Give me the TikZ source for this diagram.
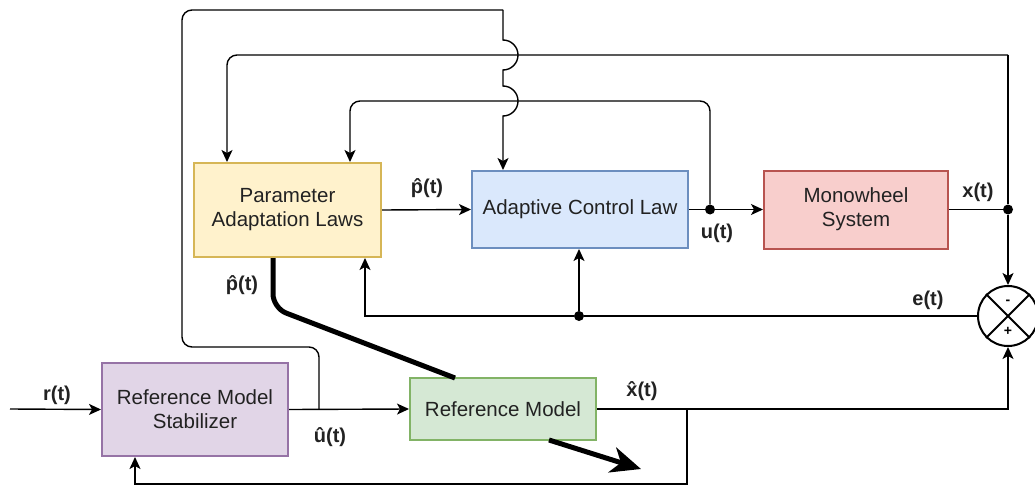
\documentclass[tikz,border=0pt]{standalone}
\usepackage{fontspec}
\setmainfont{Liberation Sans}
\usetikzlibrary{arrows.meta}
\definecolor{yfill}{HTML}{FFF2CC}\definecolor{ydraw}{HTML}{D6B656}
\definecolor{bfill}{HTML}{DAE8FC}\definecolor{bdraw}{HTML}{6C8EBF}
\definecolor{rfill}{HTML}{F8CECC}\definecolor{rdraw}{HTML}{B85450}
\definecolor{pfill}{HTML}{E1D5E7}\definecolor{pdraw}{HTML}{9673A6}
\definecolor{gfill}{HTML}{D5E8D4}\definecolor{gdraw}{HTML}{82B366}
\definecolor{txt}{HTML}{222222}
\begin{document}
\begin{tikzpicture}[x=1pt,y=-1pt,
  box/.style={draw, line width=2pt, align=center, inner sep=0pt, text=txt,
    font=\fontsize{20.5}{24}\selectfont},
  lbl/.style={font=\bfseries\fontsize{20}{22}\selectfont, text=txt},
  wire/.style={line width=1.4pt},
  conn/.style={wire, -{Stealth[length=12pt,width=11pt,inset=3pt]}},
  thick wire/.style={line width=5pt},
  dot/.style={circle, fill=black, inner sep=0pt, minimum size=10pt}]
\useasboundingbox (0,0) rectangle (1035,487);

% blocks
\node[box, fill=yfill, draw=ydraw, minimum width=187pt, minimum height=94pt] (pal) at (287.5,210) {Parameter\\Adaptation Laws};
\node[box, fill=bfill, draw=bdraw, minimum width=216pt, minimum height=77pt] (acl) at (580,209.5) {Adaptive Control Law};
\node[box, fill=rfill, draw=rdraw, minimum width=184pt, minimum height=78pt] (mws) at (856,209.5) {Monowheel\\System};
\node[box, fill=pfill, draw=pdraw, minimum width=186pt, minimum height=93pt] (rms) at (195,409.5) {Reference Model\\Stabilizer};
\node[box, fill=gfill, draw=gdraw, minimum width=186pt, minimum height=62pt] (rm) at (503,409) {Reference Model};
\node[draw, circle, line width=2pt, minimum size=60pt, inner sep=0pt] (sum) at (1008,316) {};
\draw[line width=2pt] (sum.north west) -- (sum.south east) (sum.north east) -- (sum.south west);
\node[font=\bfseries\fontsize{14}{14}\selectfont] (minus) at (1008,302) {-};
\node[font=\bfseries\fontsize{14}{14}\selectfont] (plus) at (1008,331) {+};

% junctions and bend points
\node[dot] (udot) at (710,209.5) {};
\node[dot] (xdot) at (1008,209.5) {};
\node[dot] (edot) at (579,316) {};
\coordinate (rin) at (10,409);
\coordinate (bj) at (319,409);
\coordinate (xj) at (687,409);
\coordinate (xtop) at (1008,55);
\coordinate (a227) at (227,55);
\coordinate (a350) at (350,101);
\coordinate (a365) at (365,316);
\coordinate (a503) at (503,10);
\coordinate (bl) at (135,484);
\coordinate (tk1) at (273,308);
\coordinate (tk2) at (455,378);
\coordinate (ts) at (549,440);
\coordinate (tt) at (641,469);

% main forward path
\draw[conn] (pal.east) -- (acl.west);
\draw[wire] (acl.east) -- (udot);
\draw[conn] (udot) -- (mws.west);
\draw[wire] (mws.east) -- (xdot);
\draw[conn] (xdot) -- (sum.north);

% x(t) feedback to PAL
\draw[wire] (xdot) -- (xtop);
\draw[conn, rounded corners=10pt] (xtop) -- (a227) -- (pal.north -| a227);
% u(t) feedback to PAL
\draw[conn, rounded corners=10pt] (udot) -- (710,101) -- (a350) -- (pal.north -| a350);
% e(t)
\draw[wire] (sum.west) -- (edot);
\draw[conn] (edot) -- (a365) -- (pal.south -| a365);
\draw[conn] (edot) -- (acl.south -| edot);

% reference branch
\draw[conn] (rin) -- (rms.west);
\draw[conn] (rms.east) -- (rm.west);
\draw[wire, rounded corners=10pt] (bj) -- (319,347) -- (182,347) -- (182,10) -- (a503);
\draw[conn] (a503) -- (503,40) arc[start angle=-90, end angle=90, radius=15]
  -- (503,86) arc[start angle=-90, end angle=90, radius=15] -- (acl.north -| a503);
\draw[conn] (rm.east) -| (sum.south);
\draw[conn] (xj) -- (687,484) -- (bl) -- (rms.south -| bl);

% thick parameter line and arrow
\draw[thick wire, rounded corners=14pt] (pal.south -| tk1) -- (tk1) -- (tk2);
\draw[thick wire, -{Stealth[length=30pt,width=26pt,inset=9pt]}] (ts) -- (tt);

% labels
\node[lbl] (lp1) at (427,188) {\^{p}(t)};
\node[lbl] (lp2) at (242,285) {\^{p}(t)};
\node[lbl] (lu) at (330,437) {\^{u}(t)};
\node[lbl] (lx) at (642,391) {\^{x}(t)};
\node[lbl] (lu2) at (717,233) {u(t)};
\node[lbl] (lx2) at (978,192) {x(t)};
\node[lbl] (le) at (928,300) {e(t)};
\node[lbl] (lr) at (57,395) {r(t)};
\end{tikzpicture}
\end{document}
